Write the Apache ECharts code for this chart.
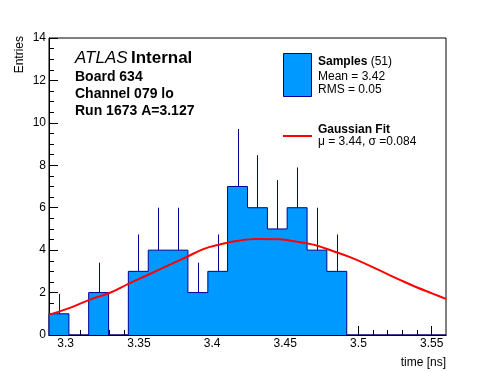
<!DOCTYPE html>
<html>
<head>
<meta charset="utf-8">
<script src="https://cdn.jsdelivr.net/npm/echarts@6/dist/echarts.min.js"></script>
<style>
html,body{margin:0;padding:0;background:#fff;}
#c{width:496px;height:372px;}
</style>
</head>
<body>
<div id="c"></div>
<script>
// ---- data ----
const xMin = 3.2886;
const xMax = 3.5598;
const binEdges = [3.2886,3.3022,3.3157,3.3293,3.3428,3.3564,3.3700,3.3835,3.3971,3.4106,3.4242,3.4378,3.4513,3.4649,3.4784,3.4920,3.5056,3.5191,3.5327,3.5462,3.5598];
const counts   = [1,0,2,0,3,4,4,2,3,7,6,5,6,4,3,0,0,0,0,0];
const errTop   = [1.94,0,3.41,0,4.74,6.0,6.0,3.41,4.74,9.71,8.48,7.30,7.90,6.0,4.74,0,0,0,0,0];
const fitX = [3.2886,3.3029,3.3166,3.3303,3.3428,3.3564,3.3735,3.3815,3.3940,3.4054,3.4168,3.4305,3.4464,3.4578,3.4646,3.4714,3.4828,3.4942,3.5056,3.5170,3.5283,3.5397,3.5511,3.5598];
const fitY = [0.96,1.28,1.67,1.99,2.41,2.84,3.39,3.64,4.05,4.27,4.43,4.52,4.51,4.40,4.32,4.22,3.95,3.67,3.33,2.96,2.60,2.25,1.94,1.70];
const xMajorTicks = [3.3,3.35,3.4,3.45,3.5,3.55];
const xMinorTicks = [3.29,3.31,3.32,3.33,3.34,3.36,3.37,3.38,3.39,3.41,3.42,3.43,3.44,3.46,3.47,3.48,3.49,3.51,3.52,3.53,3.54];
const yMax = 14;
const yStep = 2;

// ---- build ----
const FONT = '"Liberation Sans", Arial, Helvetica, sans-serif';
const errData = counts.map((c, i) => [(binEdges[i] + binEdges[i + 1]) / 2, c, errTop[i]]).filter(d => d[1] > 0);
const outline = [[binEdges[0], 0]];
counts.forEach((c, i) => { outline.push([binEdges[i], c]); outline.push([binEdges[i + 1], c]); });
outline.push([binEdges[binEdges.length - 1], 0]);
const fitData = fitX.map((x, i) => [x, fitY[i]]);

const chart = echarts.init(document.getElementById('c'), null, {renderer: 'canvas'});
const baseX = {
  type: 'value', min: xMin, max: xMax, position: 'bottom',
  axisLine: {show: true, onZero: false, lineStyle: {color: '#000', width: 1}},
  splitLine: {show: false}
};
chart.setOption({
  animation: false,
  backgroundColor: '#fff',
  grid: {left: 49, right: 50, top: 38, bottom: 37, show: true, borderColor: '#000', borderWidth: 1, backgroundColor: 'transparent'},
  xAxis: [
    Object.assign({}, baseX, {
      axisTick: {show: true, inside: true, length: 9, customValues: xMajorTicks, lineStyle: {color: '#000'}},
      axisLabel: {show: true, customValues: xMajorTicks, margin: 3, fontFamily: FONT, fontSize: 12, color: '#000',
        formatter: v => String(+v.toFixed(2))}
    }),
    Object.assign({}, baseX, {
      axisTick: {show: true, inside: true, length: 5, customValues: xMinorTicks, lineStyle: {color: '#000'}},
      axisLabel: {show: false}
    })
  ],
  yAxis: {
    type: 'value', min: 0, max: yMax, interval: yStep,
    axisLine: {show: true, lineStyle: {color: '#000', width: 1}},
    axisTick: {show: true, inside: true, length: 9, lineStyle: {color: '#000'}},
    minorTick: {show: true, splitNumber: 4, length: 5, lineStyle: {color: '#000'}},
    splitLine: {show: false},
    axisLabel: {margin: 3, fontFamily: FONT, fontSize: 12, color: '#000'}
  },
  series: [
    {
      type: 'line', xAxisIndex: 0, z: 2, data: outline, symbol: 'none',
      lineStyle: {color: '#000099', width: 1},
      areaStyle: {color: '#0099ff', opacity: 1, origin: 'start'}, silent: true
    },
    {
      type: 'custom', xAxisIndex: 0, z: 3,
      data: errData,
      renderItem: (params, api) => {
        const a = api.coord([api.value(0), api.value(1)]);
        const b = api.coord([api.value(0), api.value(2)]);
        const x = Math.round(a[0]) + 0.5;
        return {type: 'line', shape: {x1: x, y1: a[1], x2: x, y2: b[1]},
          style: {stroke: '#000099', lineWidth: 1}};
      }
    },
    {
      type: 'line', xAxisIndex: 0, z: 5, data: fitData, symbol: 'none', smooth: 0.4,
      lineStyle: {color: '#ff0000', width: 2}, silent: true
    }
  ],
  graphic: [
    {type: 'text', x: 75, y: 58, style: {
      text: '{a|ATLAS} {b|Internal}', verticalAlign: 'middle', fill: '#000',
      rich: {a: {fontFamily: FONT, fontSize: 17, fontStyle: 'italic', fill: '#000'},
             b: {fontFamily: FONT, fontSize: 17, fontWeight: 'bold', fill: '#000'}}}},
    {type: 'text', x: 75, y: 77, style: {text: 'Board 634', font: 'bold 14px ' + FONT, fill: '#000', verticalAlign: 'middle'}},
    {type: 'text', x: 75, y: 94, style: {text: 'Channel 079 lo', font: 'bold 14px ' + FONT, fill: '#000', verticalAlign: 'middle'}},
    {type: 'text', x: 75, y: 111.5, style: {text: 'Run 1673 A=3.127', font: 'bold 14px ' + FONT, fill: '#000', verticalAlign: 'middle'}},
    {type: 'rect', shape: {x: 283.5, y: 53.5, width: 28, height: 43}, style: {fill: '#0099ff', stroke: '#000099', lineWidth: 1}},
    {type: 'text', x: 318, y: 61.5, style: {
      text: '{a|Samples} {b|(51)}', verticalAlign: 'middle', fill: '#000',
      rich: {a: {fontFamily: FONT, fontSize: 12, fontWeight: 'bold', fill: '#000'},
             b: {fontFamily: FONT, fontSize: 12, fill: '#000'}}}},
    {type: 'text', x: 318, y: 76.5, style: {text: 'Mean = 3.42', font: '12px ' + FONT, fill: '#000', verticalAlign: 'middle'}},
    {type: 'text', x: 318, y: 90, style: {text: 'RMS = 0.05', font: '12px ' + FONT, fill: '#000', verticalAlign: 'middle'}},
    {type: 'line', shape: {x1: 283, y1: 136, x2: 312, y2: 136}, style: {stroke: '#ff0000', lineWidth: 2}},
    {type: 'text', x: 318, y: 129.5, style: {text: 'Gaussian Fit', font: 'bold 12px ' + FONT, fill: '#000', verticalAlign: 'middle'}},
    {type: 'text', x: 318, y: 142, style: {text: 'μ = 3.44, σ =0.084', font: '12px ' + FONT, fill: '#000', verticalAlign: 'middle'}},
    {type: 'text', x: 446, y: 357, style: {text: 'time [ns]', font: '12px ' + FONT, fill: '#000', align: 'right', verticalAlign: 'top'}},
    {type: 'text', x: 19.5, y: 36, rotation: Math.PI / 2, style: {text: 'Entries', font: '12px ' + FONT, fill: '#000', align: 'right', verticalAlign: 'middle'}}
  ]
});
</script>
</body>
</html>
